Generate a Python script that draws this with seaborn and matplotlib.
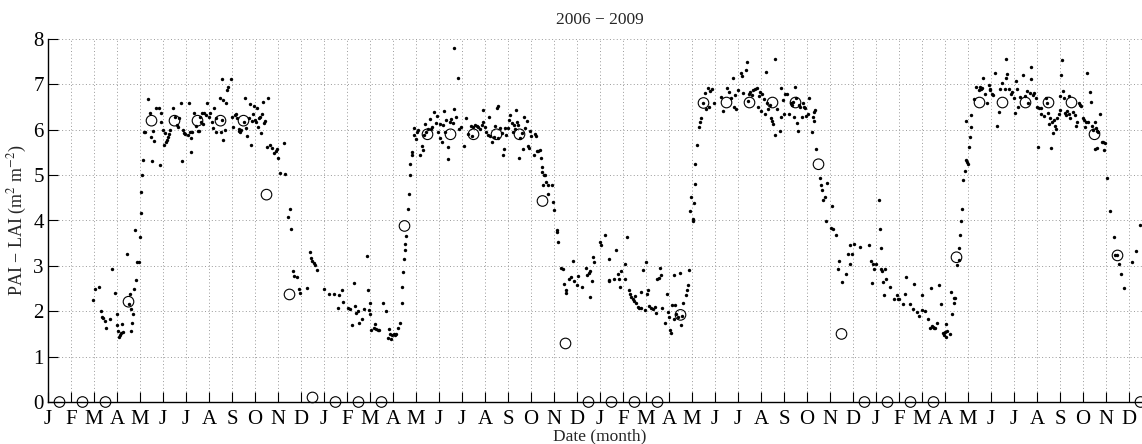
import matplotlib
matplotlib.use("Agg")
import matplotlib.pyplot as plt
import pandas as pd
import seaborn as sns

# month tick letters, repeated for each year
months = ['J', 'F', 'M', 'A', 'M', 'J', 'J', 'A', 'S', 'O', 'N', 'D']
years = [2006, 2007, 2008, 2009]

# monthly PAI - LAI (open circles), Jan 2006 .. Dec 2009
monthly_pai = [0, 0, 0, 2.21, 6.2, 6.2, 6.2, 6.2, 6.2, 4.57, 2.37, 0.1,
               0, 0, 0, 3.88, 5.9, 5.9, 5.9, 5.9, 5.9, 4.43, 1.29, 0,
               0, 0, 0, 1.92, 6.59, 6.6, 6.6, 6.6, 6.6, 5.24, 1.5, 0,
               0, 0, 0, 3.19, 6.6, 6.6, 6.6, 6.6, 6.6, 5.9, 3.23, 0]

# daily estimates as (month position since Jan 2006, PAI - LAI)
daily_2006 = [
    (1.96, 2.24), (2.06, 2.5), (2.22, 2.54), (2.29, 2.01), (2.35, 1.88), (2.39, 1.85),
    (2.46, 1.79), (2.51, 1.63), (2.68, 1.82), (2.8, 2.93), (2.93, 2.41), (2.99, 1.94),
    (2.99, 1.69), (3.04, 1.56), (3.07, 1.43), (3.13, 1.47), (3.19, 1.51), (3.22, 1.71),
    (3.28, 1.54), (3.45, 3.26), (3.51, 2.17), (3.55, 2.38), (3.59, 2.04), (3.62, 1.57),
    (3.65, 1.74), (3.68, 1.93), (3.74, 2.49), (3.8, 3.79), (3.84, 2.68), (3.88, 3.09),
    (3.96, 3.09), (4.0, 3.63), (4.03, 4.17), (4.06, 4.63), (4.09, 5.0), (4.13, 5.33),
    (4.16, 5.95), (4.23, 5.95), (4.35, 6.68), (4.43, 6.38), (4.49, 5.85), (4.54, 5.31),
    (4.58, 5.98), (4.61, 5.76), (4.7, 6.49), (4.81, 6.49), (4.87, 5.22), (4.9, 6.16),
    (4.91, 6.38), (5.0, 6.0), (5.03, 5.66), (5.07, 5.92), (5.13, 5.74), (5.16, 5.77),
    (5.22, 5.85), (5.28, 5.9), (5.32, 6.0), (5.45, 6.49), (5.51, 6.29), (5.59, 6.1),
    (5.64, 6.07), (5.68, 6.25), (5.8, 6.58), (5.83, 5.32), (5.87, 6.0), (5.91, 5.92),
    (5.97, 5.9), (6.14, 6.58), (6.07, 5.88), (6.17, 5.96), (6.21, 5.82), (6.2, 5.5),
    (6.28, 5.96), (6.35, 6.36), (6.42, 6.09), (6.5, 5.97), (6.57, 5.97), (6.6, 6.29),
    (6.64, 6.16), (6.68, 6.36), (6.74, 6.12), (6.78, 6.38), (6.86, 6.32), (6.91, 6.58),
    (7.0, 6.29), (7.06, 6.38), (7.11, 6.16), (7.17, 6.03), (7.22, 6.49), (7.29, 6.26),
    (7.32, 5.94), (7.46, 6.71), (7.5, 5.96), (7.55, 6.21), (7.57, 7.11), (7.6, 6.65),
    (7.63, 5.77), (7.69, 5.99), (7.72, 6.58), (7.78, 6.88), (7.82, 6.95), (7.95, 7.11),
    (8.01, 6.29), (8.05, 6.07), (8.12, 6.32), (8.18, 6.35), (8.22, 6.26), (8.29, 6.01),
    (8.32, 5.98), (8.36, 5.96), (8.41, 6.0), (8.51, 6.16), (8.57, 6.71), (8.61, 6.04),
    (8.64, 5.87), (8.72, 6.26), (8.78, 6.57), (8.82, 5.66), (8.87, 6.19), (8.9, 6.34),
    (8.94, 6.53), (8.98, 6.21), (9.04, 6.16), (9.1, 6.49), (9.13, 6.07), (9.18, 6.26),
    (9.22, 6.29), (9.27, 5.92), (9.3, 6.35), (9.34, 6.62), (9.4, 6.14), (9.44, 6.19),
    (9.51, 5.62), (9.57, 6.71), (9.67, 5.67), (9.76, 5.6), (9.82, 5.48), (9.9, 5.53),
    (9.96, 5.57), (10.02, 5.38), (10.1, 5.04), (10.24, 5.71), (10.29, 5.02), (10.45, 4.08),
    (10.52, 4.25), (10.56, 3.82), (10.65, 2.88), (10.71, 2.78), (10.82, 2.76), (10.92, 2.5),
    (10.96, 2.4), (11.24, 2.52), (11.37, 3.3), (11.42, 3.18), (11.48, 3.1), (11.56, 3.07),
    (11.59, 3.01), (11.68, 2.9), (11.99, 2.48),
]

daily_2007 = [
    (12.2, 2.39), (12.45, 2.37), (12.64, 2.35), (12.59, 2.07), (12.77, 2.46), (12.81, 2.21),
    (13.06, 2.07), (13.12, 2.04), (13.23, 1.69), (13.29, 2.63), (13.35, 2.12), (13.41, 1.97),
    (13.46, 2.0), (13.52, 1.75), (13.64, 1.84), (13.72, 2.04), (13.88, 3.21), (13.91, 2.46),
    (13.96, 2.02), (13.99, 2.18), (14.01, 1.95), (14.04, 1.58), (14.16, 1.63), (14.22, 1.71),
    (14.26, 1.6), (14.33, 1.58), (14.39, 1.59), (14.58, 2.18), (14.71, 2.01), (14.77, 1.41),
    (14.81, 1.6), (14.87, 1.49), (14.91, 1.38), (14.97, 1.47), (15.03, 1.49), (15.09, 1.47),
    (15.14, 1.49), (15.23, 1.63), (15.29, 1.75), (15.38, 2.18), (15.41, 2.53), (15.45, 2.87),
    (15.48, 3.16), (15.51, 3.35), (15.54, 3.49), (15.58, 3.65), (15.64, 4.25), (15.68, 4.59),
    (15.72, 5.01), (15.75, 5.24), (15.81, 5.44), (15.84, 5.51), (15.9, 5.88), (15.93, 6.04),
    (15.99, 5.79), (16.04, 5.96), (16.1, 6.0), (16.16, 5.44), (16.25, 5.65), (16.3, 5.55),
    (16.36, 5.88), (16.41, 6.12), (16.45, 5.96), (16.54, 6.01), (16.59, 6.24), (16.65, 6.01),
    (16.71, 6.07), (16.8, 6.4), (16.86, 6.14), (16.91, 6.31), (16.97, 5.94), (17.03, 5.81),
    (17.06, 6.12), (17.12, 5.74), (17.17, 6.1), (17.2, 6.41), (17.26, 5.96), (17.32, 6.21),
    (17.38, 5.62), (17.41, 5.35), (17.46, 6.16), (17.52, 6.24), (17.61, 6.14), (17.64, 7.81),
    (17.67, 6.46), (17.72, 6.29), (17.81, 7.15), (17.87, 6.01), (17.96, 6.07), (18.1, 5.65),
    (18.19, 6.26), (18.25, 5.9), (18.39, 6.09), (18.42, 5.87), (18.49, 6.07), (18.57, 6.1),
    (18.64, 6.09), (18.71, 6.07), (18.78, 6.01), (18.86, 6.1), (18.9, 6.43), (18.93, 6.18),
    (19.0, 6.07), (19.06, 5.94), (19.12, 5.88), (19.17, 6.29), (19.23, 5.87), (19.32, 5.74),
    (19.38, 5.85), (19.43, 6.09), (19.51, 6.47), (19.55, 6.53), (19.58, 5.81), (19.65, 6.04),
    (19.72, 5.92), (19.78, 5.44), (19.84, 5.57), (19.87, 6.03), (19.92, 5.88), (19.98, 6.04),
    (20.04, 6.21), (20.08, 6.32), (20.16, 6.14), (20.21, 5.94), (20.26, 6.1), (20.3, 6.01),
    (20.33, 6.43), (20.39, 6.16), (20.42, 6.1), (20.47, 5.37), (20.53, 5.81), (20.59, 5.92),
    (20.66, 5.57), (20.7, 6.29), (20.76, 6.03), (20.81, 6.19), (20.85, 5.65), (20.91, 5.6),
    (20.97, 5.97), (21.0, 5.87), (21.11, 5.44), (21.17, 5.9), (21.2, 5.87), (21.25, 5.53),
    (21.31, 5.53), (21.38, 5.55), (21.43, 5.37), (21.46, 5.18), (21.49, 5.06), (21.57, 5.01),
    (21.63, 5.0), (21.54, 4.79), (21.67, 4.85), (21.72, 4.78), (21.75, 4.59), (21.93, 4.79),
    (21.96, 4.41), (22.01, 4.23), (22.11, 3.79), (22.15, 3.74), (22.18, 3.52), (22.29, 2.96),
    (22.38, 2.93), (22.44, 2.59), (22.5, 2.46), (22.53, 2.41), (22.67, 2.72), (22.73, 2.76),
    (22.83, 3.1), (22.87, 2.66), (22.99, 2.57), (23.05, 2.78), (23.2, 2.53), (23.37, 2.96),
    (23.45, 2.79), (23.51, 2.85), (23.56, 2.88), (23.55, 2.32), (23.65, 2.66), (23.68, 3.2),
    (23.74, 3.09),
]

daily_2008 = [
    (24.0, 3.52), (24.06, 3.47), (24.2, 3.68), (24.38, 3.16), (24.38, 2.66), (24.41, 2.68),
    (24.61, 2.7), (24.71, 3.35), (24.78, 2.81), (24.81, 2.7), (24.86, 2.53), (24.9, 2.88),
    (25.07, 3.05), (25.1, 2.7), (25.19, 3.63), (25.25, 2.46), (25.3, 2.37), (25.36, 2.32),
    (25.42, 2.28), (25.48, 2.22), (25.54, 2.34), (25.58, 2.18), (25.65, 2.1), (25.71, 2.07),
    (25.77, 2.07), (25.77, 2.43), (25.88, 2.9), (25.94, 2.02), (26.0, 3.09), (26.06, 2.39),
    (26.09, 2.46), (26.13, 2.12), (26.23, 2.07), (26.3, 2.06), (26.38, 2.1), (26.43, 1.97),
    (26.49, 2.72), (26.55, 2.74), (26.59, 2.96), (26.67, 2.79), (26.7, 2.07), (26.84, 1.75),
    (26.9, 2.37), (26.96, 1.99), (27.01, 1.88), (27.04, 1.58), (27.1, 1.51), (27.14, 2.13),
    (27.2, 1.84), (27.22, 2.79), (27.25, 2.13), (27.32, 1.95), (27.39, 1.88), (27.46, 2.85),
    (27.51, 1.69), (27.57, 1.9), (27.61, 2.19), (27.75, 2.35), (27.8, 2.46), (27.83, 2.57),
    (27.87, 2.9), (27.93, 4.22), (27.97, 4.52), (28.03, 4.04), (28.06, 3.98), (28.09, 4.38),
    (28.12, 4.81), (28.14, 5.25), (28.2, 5.66), (28.29, 6.07), (28.35, 6.18), (28.41, 6.26),
    (28.49, 6.58), (28.55, 6.82), (28.62, 6.45), (28.7, 6.93), (28.72, 6.5), (28.78, 6.85),
    (28.87, 6.89), (28.96, 6.58), (29.28, 6.73), (29.35, 6.41), (29.51, 6.92), (29.59, 6.84),
    (29.71, 6.71), (29.78, 7.13), (29.83, 6.5), (29.88, 6.76), (29.93, 6.45), (29.99, 6.87),
    (30.12, 7.25), (30.17, 7.18), (30.22, 6.82), (30.36, 7.31), (30.41, 7.5), (30.43, 6.64),
    (30.46, 6.78), (30.53, 6.84), (30.6, 6.76), (30.66, 6.87), (30.74, 6.89), (30.81, 6.93),
    (30.86, 6.5), (30.91, 6.74), (30.96, 6.84), (31.0, 6.41), (31.06, 6.78), (31.11, 6.68),
    (31.17, 6.35), (31.23, 7.28), (31.26, 6.58), (31.31, 6.46), (31.39, 6.54), (31.43, 6.26),
    (31.49, 6.19), (31.53, 6.12), (31.6, 7.56), (31.63, 5.88), (31.69, 6.46), (31.81, 5.97),
    (31.86, 6.93), (31.89, 6.29), (31.96, 6.65), (32.0, 6.35), (32.06, 6.78), (32.14, 6.79),
    (32.2, 6.35), (32.29, 6.58), (32.34, 6.54), (32.4, 6.62), (32.43, 6.29), (32.49, 6.94),
    (32.53, 6.69), (32.57, 6.14), (32.6, 5.97), (32.67, 6.54), (32.71, 6.5), (32.77, 6.29),
    (32.81, 6.58), (32.86, 6.5), (32.91, 6.47), (32.96, 6.31), (33.03, 6.35), (33.1, 6.71),
    (33.2, 5.96), (33.24, 6.29), (33.29, 6.19), (33.31, 6.4), (33.34, 6.43), (33.41, 5.57),
    (33.57, 4.93), (33.63, 4.78), (33.66, 4.68), (33.71, 4.46), (33.77, 4.52), (33.86, 4.82),
    (34.07, 4.32), (33.83, 3.99), (34.03, 3.84), (34.11, 3.82), (34.24, 3.68), (34.4, 3.1),
    (34.34, 2.93), (34.54, 2.65), (34.69, 2.81), (34.8, 3.26), (34.86, 3.46), (34.89, 3.05),
    (34.96, 3.26), (35.03, 3.49), (35.31, 3.41), (35.71, 3.46), (35.8, 3.1), (35.83, 2.63),
    (35.86, 3.05), (35.93, 2.94),
]

daily_2009 = [
    (36.0, 3.05), (36.11, 4.46), (36.17, 3.82), (36.21, 3.4), (36.21, 2.93), (36.26, 2.88),
    (36.31, 2.65), (36.37, 2.94), (36.43, 2.72), (36.34, 2.35), (36.62, 2.54), (36.77, 2.28),
    (36.91, 2.35), (36.96, 2.28), (37.0, 2.28), (37.18, 2.15), (37.25, 2.39), (37.32, 2.76),
    (37.47, 2.15), (37.61, 2.06), (37.64, 2.61), (37.79, 1.99), (37.88, 1.9), (37.98, 2.35),
    (38.02, 2.02), (38.11, 2.0), (38.27, 1.84), (38.34, 1.62), (38.37, 2.51), (38.42, 1.68),
    (38.46, 1.65), (38.52, 1.63), (38.58, 1.62), (38.66, 1.75), (38.72, 2.57), (38.84, 2.15),
    (38.9, 1.51), (38.96, 1.47), (39.0, 1.54), (39.04, 1.71), (39.04, 1.43), (39.1, 1.56),
    (39.22, 1.49), (39.26, 2.43), (39.32, 1.95), (39.37, 2.29), (39.39, 2.18), (39.42, 2.29),
    (39.54, 3.01), (39.6, 3.12), (39.63, 3.4), (39.66, 3.68), (39.69, 3.99), (39.72, 4.26),
    (39.8, 4.9), (39.85, 5.1), (39.92, 5.34), (39.95, 5.28), (39.98, 5.24), (40.04, 5.62),
    (40.07, 5.85), (40.12, 6.32), (40.15, 6.07), (39.9, 6.19), (40.27, 6.68), (40.36, 6.95),
    (40.47, 6.87), (40.53, 6.95), (40.56, 6.9), (40.61, 6.93), (40.67, 7.15), (40.75, 6.78),
    (40.82, 6.58), (40.9, 6.98), (40.94, 6.87), (40.97, 6.9), (41.04, 6.79), (41.09, 6.76),
    (41.19, 7.24), (41.26, 6.09), (41.34, 6.4), (41.41, 6.9), (41.49, 7.02), (41.59, 6.9),
    (41.64, 7.15), (41.67, 7.57), (41.7, 7.22), (41.77, 6.9), (41.85, 6.79), (41.92, 6.84),
    (41.99, 6.71), (42.04, 6.38), (42.08, 7.08), (42.14, 6.9), (42.17, 6.5), (42.26, 6.72),
    (42.4, 7.2), (42.46, 6.75), (42.55, 6.85), (42.62, 6.6), (42.68, 6.82), (42.73, 7.38),
    (42.76, 7.12), (42.82, 6.76), (42.88, 6.82), (42.94, 6.69), (43.01, 6.5), (43.05, 5.62),
    (43.08, 6.49), (43.17, 6.49), (43.17, 6.34), (43.3, 6.31), (43.37, 6.7), (43.44, 6.58),
    (43.48, 6.36), (43.51, 6.12), (43.58, 6.25), (43.63, 5.59), (43.66, 6.16), (43.7, 5.92),
    (43.74, 6.21), (43.8, 6.09), (43.83, 6.01), (43.89, 6.25), (43.95, 6.34), (43.99, 6.43),
    (44.02, 6.75), (44.06, 7.21), (44.09, 7.53), (44.15, 6.85), (44.18, 6.7), (44.2, 6.38),
    (44.26, 6.32), (44.31, 6.41), (44.38, 6.34), (44.41, 6.75), (44.45, 6.26), (44.55, 6.4),
    (44.64, 6.32), (44.69, 6.09), (44.75, 6.16), (44.81, 6.58), (44.88, 6.54), (44.93, 6.53),
    (44.98, 6.26), (45.04, 6.21), (45.07, 6.07), (45.13, 6.16), (45.16, 7.24), (45.2, 6.16),
    (45.29, 6.84), (45.36, 6.62), (45.41, 6.09), (45.44, 6.0), (45.53, 6.16), (45.56, 6.04),
    (45.62, 5.97), (45.67, 5.96), (45.53, 5.57), (45.62, 5.6), (45.76, 6.34), (45.82, 5.74),
    (45.88, 5.72), (45.9, 5.55), (45.96, 5.71), (46.03, 4.93), (46.18, 4.2), (46.34, 3.63),
    (46.4, 3.24), (46.47, 3.24), (46.57, 3.05), (46.64, 2.81), (46.8, 2.51), (47.12, 3.09),
    (47.29, 3.32), (47.48, 3.9),
]

sns.set_style("ticks")
plt.rcParams['font.family'] = ['Liberation Serif', 'DejaVu Serif']
plt.rcParams['mathtext.fontset'] = 'stix'

daily = pd.DataFrame(daily_2006 + daily_2007 + daily_2008 + daily_2009,
                     columns=['month', 'pai'])
n_months = len(monthly_pai)
monthly = pd.DataFrame({'month': [i + 0.5 for i in range(n_months)],
                        'pai': monthly_pai})

fig = plt.figure(figsize=(11.42, 4.44), dpi=100)
# axes runs a little past the right edge of the image, as in the original crop
ax = fig.add_axes([48 / 1142, 42 / 444, 1104 / 1142, 363 / 444])

sns.scatterplot(data=monthly, x='month', y='pai', ax=ax, marker='o', s=58,
                facecolors='none', edgecolor='black', linewidth=0.8,
                clip_on=False, zorder=3)
sns.scatterplot(data=daily, x='month', y='pai', ax=ax, color='black', s=6,
                linewidth=0, zorder=4)

ax.set_xlim(0, n_months)
ax.set_ylim(0, 8)
ax.set_xticks(range(n_months))
ax.set_xticklabels(months * len(years))
ax.set_yticks(range(9))

ax.grid(True, linestyle=(0, (1, 2.5)), color='0.6', linewidth=0.7)
ax.set_axisbelow(True)
for side in ['top', 'right']:
    ax.spines[side].set_visible(False)
for side in ['left', 'bottom']:
    ax.spines[side].set_linewidth(1.0)
    ax.spines[side].set_color('black')

ax.tick_params(direction='in', length=7, width=0.8, labelsize=15,
               colors='black')
ax.tick_params(axis='x', pad=5.5)
ax.tick_params(axis='y', pad=3)

ax.set_title('2006 \u2212 2009', fontsize=12.5, pad=11)
ax.set_xlabel('Date (month)', fontsize=12.5, labelpad=-0.5)
ax.set_ylabel('PAI \u2212 LAI (m$^2$ m$^{-2}$)', fontsize=13, labelpad=3)

fig.savefig('out.png', dpi=100)
